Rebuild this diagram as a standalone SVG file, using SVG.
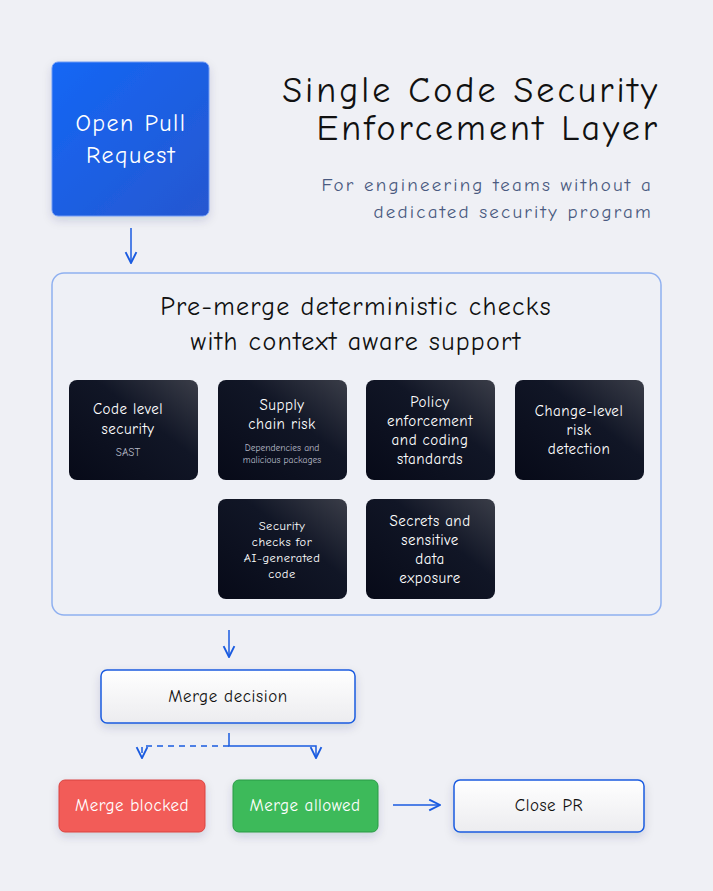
<svg xmlns="http://www.w3.org/2000/svg" width="713" height="891" viewBox="0 0 713 891">
<defs>
<linearGradient id="blue" x1="0" y1="0" x2="1" y2="1"><stop offset="0" stop-color="#1467f5"/><stop offset="1" stop-color="#2657d0"/></linearGradient>
<linearGradient id="dark" x1="0" y1="1" x2="1" y2="0"><stop offset="0" stop-color="#070a18"/><stop offset="0.6" stop-color="#111626"/><stop offset="1" stop-color="#3a3d48"/></linearGradient>
<linearGradient id="light" x1="0" y1="0" x2="0" y2="1"><stop offset="0" stop-color="#ffffff"/><stop offset="1" stop-color="#ececef"/></linearGradient>
<marker id="ah" viewBox="0 0 10 10" refX="9" refY="5" markerWidth="9" markerHeight="9" orient="auto"><path d="M1,1 L9,5 L1,9" fill="none" stroke="#1a5be0" stroke-width="1.4"/></marker>
<filter id="sh" x="-20%" y="-20%" width="140%" height="150%"><feDropShadow dx="0" dy="4" stdDeviation="5" flood-color="#1a2a60" flood-opacity="0.15"/></filter>
</defs>
<style>
text{font-family:"Comic Neue","Noto Sans",sans-serif;}
.w{fill:#fff;font-size:15px;text-anchor:middle;letter-spacing:0.5px}
.s{fill:#b8bcc8;font-size:9.5px;text-anchor:middle}
.card{fill:url(#dark)}
.c{fill:none;stroke:#1a5be0;stroke-width:1.5}
</style>
<rect width="713" height="891" fill="#eff0f5"/>
<g id="open-pr"><rect x="52" y="62" width="157" height="154" rx="6" fill="url(#blue)" stroke="#6f9af5" filter="url(#sh)"/>
<text x="131" y="131" class="w" style="font-size:24px;letter-spacing:1.5px">Open Pull</text>
<text x="131" y="163" class="w" style="font-size:24px;letter-spacing:1.5px">Request</text></g>
<g id="title"><text x="660" y="102" text-anchor="end" font-size="36" letter-spacing="3" fill="#111">Single Code Security</text>
<text x="660" y="140" text-anchor="end" font-size="36" letter-spacing="3" fill="#111">Enforcement Layer</text>
<text x="653" y="191" text-anchor="end" font-size="19" letter-spacing="2.2" fill="#4a5a80">For engineering teams without a</text>
<text x="653" y="218" text-anchor="end" font-size="19" letter-spacing="2.2" fill="#4a5a80">dedicated security program</text></g>
<g id="checks"><rect x="52" y="273" width="609" height="342" rx="12" fill="#eef0f6" stroke="#8fb0f0" stroke-width="1.5"/>
<text x="356" y="315" text-anchor="middle" font-size="26" letter-spacing="1.3" fill="#111">Pre-merge deterministic checks</text>
<text x="356" y="350" text-anchor="middle" font-size="26" letter-spacing="1.3" fill="#111">with context aware support</text></g>
<g id="card1"><rect x="69" y="380" width="129" height="100" rx="8" class="card"/><text x="128" y="414" class="w">Code level</text><text x="128" y="434" class="w">security</text><text x="128" y="456" class="s" style="font-size:11px">SAST</text></g>
<g id="card2"><rect x="218" y="380" width="129" height="100" rx="8" class="card"/><text x="282" y="410" class="w">Supply</text><text x="282" y="429" class="w">chain risk</text><text x="282" y="451" class="s">Dependencies and</text><text x="282" y="463" class="s">malicious packages</text></g>
<g id="card3"><rect x="366" y="380" width="129" height="100" rx="8" class="card"/><text x="430" y="407" class="w">Policy</text><text x="430" y="426" class="w">enforcement</text><text x="430" y="445" class="w">and coding</text><text x="430" y="464" class="w">standards</text></g>
<g id="card4"><rect x="515" y="380" width="129" height="100" rx="8" class="card"/><text x="579" y="416" class="w">Change-level</text><text x="579" y="435" class="w">risk</text><text x="579" y="454" class="w">detection</text></g>
<g id="card5"><rect x="218" y="499" width="129" height="100" rx="8" class="card"/><text x="282" y="530" class="w" style="font-size:12.5px">Security</text><text x="282" y="546" class="w" style="font-size:12.5px">checks for</text><text x="282" y="562" class="w" style="font-size:12.5px">AI-generated</text><text x="282" y="578" class="w" style="font-size:12.5px">code</text></g>
<g id="card6"><rect x="366" y="499" width="129" height="100" rx="8" class="card"/><text x="430" y="526" class="w">Secrets and</text><text x="430" y="545" class="w">sensitive</text><text x="430" y="564" class="w">data</text><text x="430" y="583" class="w">exposure</text></g>
<g id="merge-decision"><rect x="101" y="670" width="254" height="53" rx="6" fill="url(#light)" stroke="#1a5be0" stroke-width="1.5" filter="url(#sh)"/><text x="228" y="702" text-anchor="middle" font-size="17" letter-spacing="0.6" fill="#111">Merge decision</text></g>
<g id="merge-blocked"><rect x="59" y="780" width="146" height="52" rx="6" fill="#f25b58" stroke="#d84440" filter="url(#sh)"/><text x="132" y="811" class="w" style="font-size:17px">Merge blocked</text></g>
<g id="merge-allowed"><rect x="233" y="780" width="145" height="52" rx="6" fill="#3dba5a" stroke="#2a9a45" filter="url(#sh)"/><text x="305" y="811" class="w" style="font-size:17px">Merge allowed</text></g>
<g id="close-pr"><rect x="454" y="780" width="190" height="52" rx="6" fill="url(#light)" stroke="#1a5be0" stroke-width="1.5" filter="url(#sh)"/><text x="549" y="811" text-anchor="middle" font-size="17" letter-spacing="0.6" fill="#111">Close PR</text></g>
<g id="connectors">
<path class="c" d="M131,228 V263" marker-end="url(#ah)"/>
<path class="c" d="M229,630 V657" marker-end="url(#ah)"/>
<path class="c" d="M229,733 V746 H316 V758" marker-end="url(#ah)"/>
<path class="c" d="M229,746 H142 V758" stroke-dasharray="6,5" marker-end="url(#ah)"/>
<path class="c" d="M393,805 H440" marker-end="url(#ah)"/>
</g>
</svg>
